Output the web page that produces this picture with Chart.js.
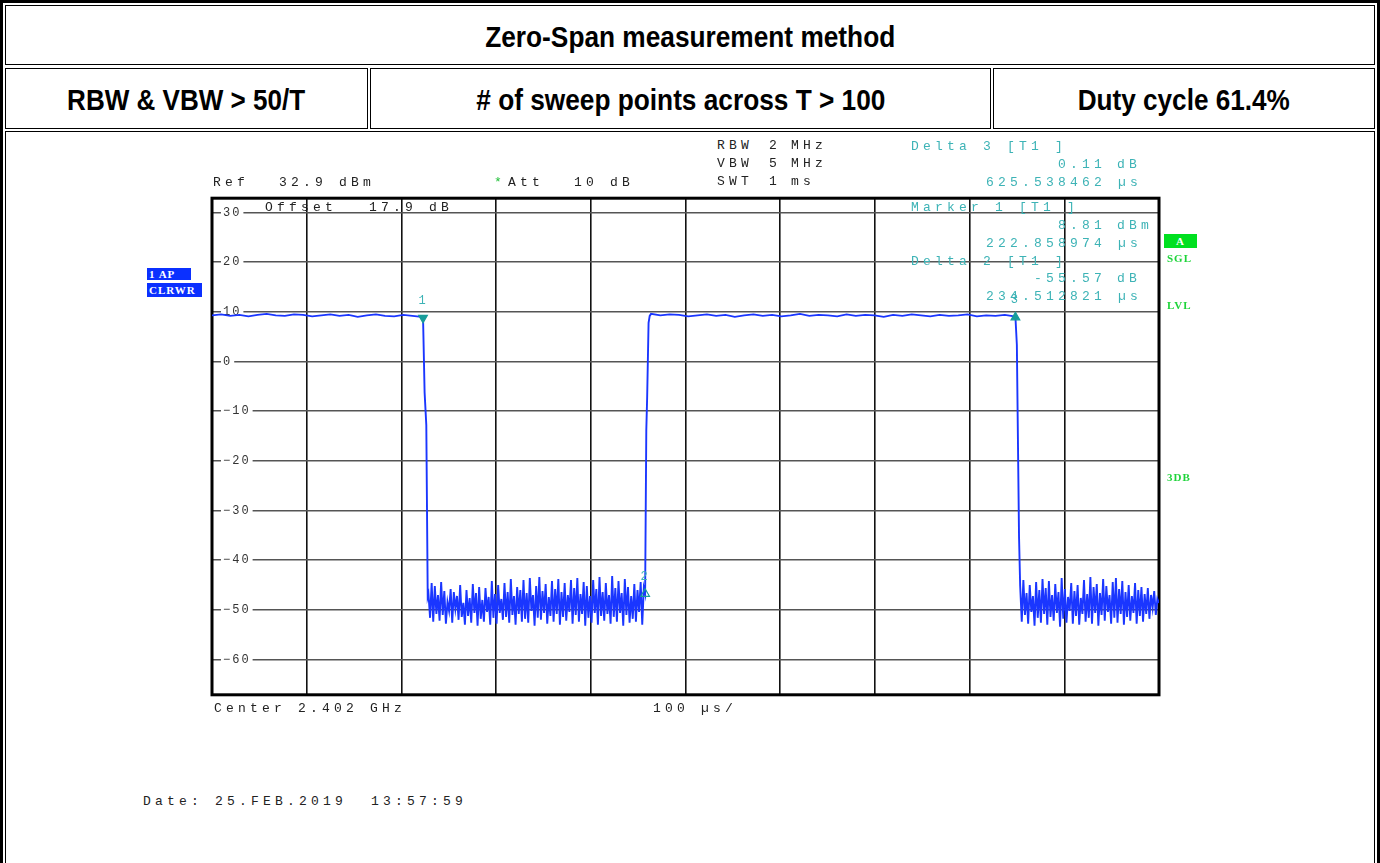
<!DOCTYPE html>
<html>
<head>
<meta charset="utf-8">
<script src="https://cdn.jsdelivr.net/npm/chart.js@4.4.1/dist/chart.umd.min.js"></script>
<style>
  html, body { margin: 0; padding: 0; background: #fff; }
  #page { position: relative; width: 1380px; height: 863px; overflow: hidden; }
  .frame { position: absolute; left: 0; top: 0; width: 1380px; height: 900px; border: 3px solid #000; box-sizing: border-box; }
  .cell { position: absolute; border: 1px solid #000; box-sizing: border-box; display: flex; align-items: center; justify-content: center; overflow: visible; }
  .head { font-family: "Liberation Sans Narrow", "Liberation Sans", Arial, sans-serif; font-weight: bold; font-size: 30px; white-space: nowrap; display: inline-block; transform-origin: center; color: #000; }
  .t { position: absolute; font-family: "Liberation Mono", monospace; font-size: 13px; line-height: 12px; letter-spacing: 4.2px; white-space: pre; color: #222; }
  .teal { color: #3db3b6; }
  .box { position: absolute; color: #fff; font-family: "Liberation Serif", serif; font-weight: bold; font-size: 11px; line-height: 12px; letter-spacing: 1px; padding-left: 2px; box-sizing: border-box; }
  .grn { position: absolute; color: #1ed43a; font-family: "Liberation Serif", serif; font-weight: bold; font-size: 11px; line-height: 10px; letter-spacing: 1px; }
  #plot { position: absolute; left: 190px; top: 180px; }
</style>
</head>
<body>
<div id="page">
  <div class="frame"></div>
  <div class="cell" style="left:5px;top:5px;width:1370px;height:60px;padding-top:4px"><span class="head" data-w="410">Zero-Span measurement method</span></div>
  <div class="cell" style="left:5px;top:68px;width:363px;height:61px;padding-top:2px"><span class="head" data-w="238">RBW &amp; VBW &gt; 50/T</span></div>
  <div class="cell" style="left:370px;top:68px;width:621px;height:61px;padding-top:2px"><span class="head" data-w="409"># of sweep points across T &gt; 100</span></div>
  <div class="cell" style="left:993px;top:68px;width:382px;height:61px;padding-top:2px"><span class="head" data-w="212">Duty cycle 61.4%</span></div>
  <div class="cell" style="left:5px;top:131px;width:1370px;height:800px"></div>

  <canvas id="plot" width="980" height="533"></canvas>

  <!-- instrument header -->
  <div class="t" style="left:717px;top:140px">RBW</div>
  <div class="t" style="left:769px;top:140px">2</div>
  <div class="t" style="left:791px;top:140px">MHz</div>
  <div class="t" style="left:717px;top:158px">VBW</div>
  <div class="t" style="left:769px;top:158px">5</div>
  <div class="t" style="left:791px;top:158px">MHz</div>
  <div class="t" style="left:717px;top:176px">SWT</div>
  <div class="t" style="left:769px;top:176px">1</div>
  <div class="t" style="left:791px;top:176px">ms</div>

  <div class="t" style="left:213px;top:177px">Ref</div>
  <div class="t" style="left:279px;top:177px">32.9 dBm</div>
  <div class="t" style="left:494px;top:177px;color:#22c03a">*</div>
  <div class="t" style="left:508px;top:177px">Att</div>
  <div class="t" style="left:574px;top:177px">10 dB</div>
  <div class="t" style="left:265px;top:202px">Offset</div>
  <div class="t" style="left:369px;top:202px">17.9 dB</div>

  <!-- marker readouts -->
  <div class="t teal" style="left:911px;top:141px">Delta 3 [T1 ]</div>
  <div class="t teal" style="right:274px;top:159px">0.11</div>
  <div class="t teal" style="left:1117px;top:159px">dB</div>
  <div class="t teal" style="right:274px;top:177px">625.538462</div>
  <div class="t teal" style="left:1118px;top:177px">µs</div>
  <div class="t teal" style="left:911px;top:202px">Marker 1 [T1 ]</div>
  <div class="t teal" style="right:274px;top:220px">8.81</div>
  <div class="t teal" style="left:1117px;top:220px">dBm</div>
  <div class="t teal" style="right:274px;top:238px">222.858974</div>
  <div class="t teal" style="left:1118px;top:238px">µs</div>
  <div class="t teal" style="left:911px;top:256px">Delta 2 [T1 ]</div>
  <div class="t teal" style="right:274px;top:273px">-55.57</div>
  <div class="t teal" style="left:1117px;top:273px">dB</div>
  <div class="t teal" style="right:274px;top:291px">234.512821</div>
  <div class="t teal" style="left:1118px;top:291px">µs</div>

  <!-- side labels -->
  <div class="box" style="left:147px;top:268px;width:44px;height:12px;background:#0b30ff">1 AP</div>
  <div class="box" style="left:147px;top:283px;width:55px;height:14px;padding-top:1px;background:#0b30ff">CLRWR</div>
  <div class="box" style="left:1164px;top:234px;width:33px;height:14px;padding:1px 0 0 0;text-align:center;background:#00e020">A</div>
  <div class="grn" style="left:1167px;top:253px">SGL</div>
  <div class="grn" style="left:1167px;top:300px">LVL</div>
  <div class="grn" style="left:1167px;top:472px">3DB</div>

  <!-- footer -->
  <div class="t" style="left:214px;top:703px">Center 2.402 GHz</div>
  <div class="t" style="left:653px;top:703px">100 µs/</div>
  <div class="t" style="left:143px;top:796px">Date: 25.FEB.2019  13:57:59</div>
</div>

<script>
// grid: 100 us/div over 1 ms sweep, 10 dB/div below Ref 32.9 dBm
const timeTicks = [0, 100, 200, 300, 400, 500, 600, 700, 800, 900, 1000];
const levelTicks = [30, 20, 10, 0, -10, -20, -30, -40, -50, -60];

// burst on (us / dBm)
const plateau1Span = [0, 221.2];
const plateau1 = [9.3, 9.5, 9.2, 9.4, 9.1, 9.4, 9.6, 9.3, 9.2, 9.5, 9.4, 9.1,
                  9.3, 9.5, 9.2, 9.4, 9.0, 9.3, 9.5, 9.2, 9.1, 9.4, 9.2, 9.0];
const fall1Times = [224.5, 226.3, 227.8];
const fall1Levels = [-6.2, -12.8, -47.4];

// burst off, noise floor
const noise1Span = [228.6, 456.0];
const noise1 = [
  -46.8, -51.6, -44.6, -52.4, -45.2, -50.8, -47.0, -52.2, -44.4, -51.0,
  -46.2, -52.8, -48.4, -50.2, -45.8, -52.6, -46.4, -49.8, -47.2, -52.0,
  -45.0, -51.4, -48.6, -53.0, -46.0, -51.2, -47.6, -52.6, -44.8, -50.6,
  -46.6, -53.2, -45.4, -51.8, -48.0, -52.4, -45.6, -50.4, -47.4, -53.0,
  -44.2, -51.6, -46.8, -52.8, -45.0, -50.6, -47.8, -52.0, -44.6, -51.4,
  -46.4, -52.6, -43.8, -51.0, -47.2, -53.0, -45.4, -50.8, -46.0, -52.4,
  -44.0, -51.8, -46.6, -52.6, -43.6, -50.2, -47.0, -53.2, -45.2, -51.6,
  -43.4, -52.0, -46.2, -50.6, -44.8, -52.8, -47.4, -51.2, -44.2, -52.4,
  -45.8, -50.8, -43.8, -53.0, -46.4, -51.4, -44.6, -52.2, -47.0, -50.4,
  -44.0, -52.8, -45.6, -51.0, -43.6, -52.4, -46.8, -50.8, -44.4, -53.2,
  -45.2, -51.6, -47.2, -52.6, -44.0, -50.6, -45.8, -53.0, -43.4, -51.2,
  -46.4, -52.2, -44.6, -50.8, -47.0, -52.8, -43.2, -51.4, -45.6, -52.4,
  -44.2, -50.6, -46.6, -53.2, -43.8, -51.0, -45.4, -52.6, -47.2, -51.8,
  -44.8, -52.4, -46.0, -50.4, -44.4, -53.0, -45.6
];
const rise1Times = [458.6, 459.5, 461.0, 462.2];
const rise1Levels = [-13.9, -7.3, 7.8, 9.2];

const plateau2Span = [463.6, 847.0];
const plateau2 = [9.6, 9.3, 9.5, 9.4, 9.1, 9.3, 9.5, 9.2, 9.4, 9.0, 9.3, 9.5, 9.2, 9.4,
                  9.1, 9.3, 9.6, 9.2, 9.4, 9.3, 9.1, 9.5, 9.2, 9.4, 9.3, 9.0, 9.4, 9.2,
                  9.5, 9.3, 9.1, 9.4, 9.2, 9.3, 9.5, 9.1, 9.3, 9.2, 9.4, 9.1];
const fall2Times = [849.9, 852.2];
const fall2Levels = [3.4, -35.3];

const noise2Span = [853.4, 1000];
const noise2 = [
  -45.2, -52.4, -44.0, -51.0, -46.6, -52.8, -45.0, -50.4, -47.2, -53.2,
  -44.4, -51.6, -46.0, -52.6, -43.8, -50.8, -45.6, -53.0, -44.2, -51.4,
  -47.0, -52.2, -44.8, -50.6, -46.4, -53.4, -43.6, -51.8, -45.8, -52.6,
  -47.4, -50.2, -44.6, -52.8, -46.2, -51.2, -45.0, -53.0, -47.6, -50.8,
  -44.0, -52.4, -46.8, -51.6, -43.4, -52.8, -45.4, -50.6, -44.8, -53.2,
  -46.6, -51.0, -43.8, -52.2, -45.2, -50.4, -47.0, -52.8, -44.4, -51.6,
  -43.6, -52.6, -45.8, -50.8, -44.2, -53.0, -46.4, -51.4, -45.0, -52.2,
  -47.2, -50.6, -44.6, -52.8, -46.0, -51.2, -45.4, -52.4, -46.8, -50.8,
  -45.6, -51.8, -47.0, -49.6, -46.2, -51.0, -47.8, -48.6
];

// markers: M1, D2, D3
const markerNames = ['1', '2', '3'];
const markerTimes = [222.86, 457.37, 848.40];
const markerLevels = [8.81, -46.76, 8.92];

const trace = [];
function addSweep(span, levels) {
    const step = (span[1] - span[0]) / (levels.length - 1);
    levels.forEach((v, i) => trace.push({ x: span[0] + i * step, y: v }));
}
function addPoints(times, levels) {
    times.forEach((t, i) => trace.push({ x: t, y: levels[i] }));
}

addSweep(plateau1Span, plateau1);
addPoints([markerTimes[0]], [markerLevels[0]]);
addPoints(fall1Times, fall1Levels);
addSweep(noise1Span, noise1);
addPoints([markerTimes[1]], [markerLevels[1]]);
addPoints(rise1Times, rise1Levels);
addSweep(plateau2Span, plateau2);
addPoints([markerTimes[2]], [markerLevels[2]]);
addPoints(fall2Times, fall2Levels);
addSweep(noise2Span, noise2);

const markerPoints = markerTimes.map((t, i) => ({ x: t, y: markerLevels[i] }));

// squeeze the header texts to the narrow bold look
document.querySelectorAll('.head').forEach(el => {
    const w = el.getBoundingClientRect().width;
    el.style.transform = 'scaleX(' + (Number(el.dataset.w) / w) + ')';
});

const spacing = {
    id: 'spacing',
    beforeLayout(chart) { chart.ctx.letterSpacing = '2px'; },
    beforeDraw(chart) { chart.ctx.letterSpacing = '2px'; }
};

const frame = {
    id: 'frame',
    beforeDatasetsDraw(chart) {
        const { ctx, chartArea: a } = chart;
        ctx.save();
        ctx.strokeStyle = '#000';
        ctx.lineWidth = 3;
        ctx.strokeRect(a.left, a.top, a.right - a.left, a.bottom - a.top);
        ctx.restore();
    }
};

const markerLabels = {
    id: 'markerLabels',
    afterDatasetsDraw(chart) {
        const { ctx } = chart;
        const meta = chart.getDatasetMeta(1);
        ctx.save();
        ctx.fillStyle = '#3db3b6';
        ctx.font = '12px "Liberation Mono"';
        ctx.textAlign = 'center';
        ctx.textBaseline = 'middle';
        meta.data.forEach((pt, i) => ctx.fillText(markerNames[i], pt.x, pt.y - 17));
        ctx.restore();
    }
};

new Chart(document.getElementById('plot'), {
    type: 'line',
    data: {
        datasets: [{
            data: trace,
            borderColor: '#1a36ff',
            borderWidth: 1.9,
            pointRadius: 0,
            tension: 0,
            order: 2
        }, {
            data: markerPoints,
            showLine: false,
            pointStyle: 'triangle',
            rotation: [180, 0, 0],
            pointRadius: 5,
            backgroundColor: ['#179c9a', 'rgba(0,0,0,0)', '#179c9a'],
            borderColor: '#179c9a',
            borderWidth: 1.2,
            order: 1
        }]
    },
    options: {
        responsive: false,
        animation: false,
        layout: { autoPadding: false, padding: { left: 0, top: 7, right: 11, bottom: 10 } },
        plugins: { legend: { display: false }, tooltip: { enabled: false } },
        scales: {
            x: {
                type: 'linear',
                min: 0,
                max: 1000,
                afterBuildTicks: s => { s.ticks = timeTicks.map(v => ({ value: v })); },
                ticks: { display: false },
                grid: { color: '#111', lineWidth: 1.6, drawTicks: false },
                border: { display: false }
            },
            y: {
                type: 'linear',
                min: -67.1,
                max: 32.9,
                afterBuildTicks: s => { s.ticks = levelTicks.map(v => ({ value: v })); },
                ticks: {
                    mirror: true,
                    padding: 11,
                    color: '#333',
                    font: { family: 'Liberation Mono', size: 12 },
                    showLabelBackdrop: true,
                    backdropColor: '#fff',
                    backdropPadding: { x: 2, y: 1 },
                    callback: v => v < 0 ? '\u2212' + (-v) : String(v)
                },
                grid: { color: '#555', lineWidth: 1.6, drawTicks: false },
                border: { display: false }
            }
        }
    },
    plugins: [spacing, frame, markerLabels]
});
</script>
</body>
</html>
